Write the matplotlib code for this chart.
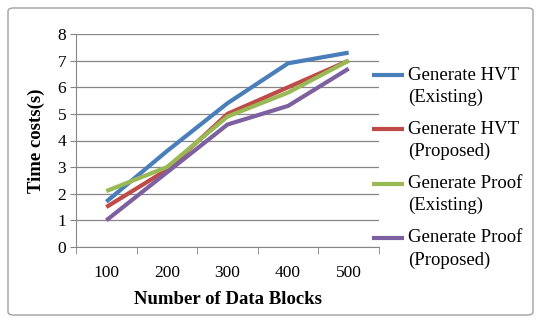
import matplotlib
matplotlib.use("Agg")
import matplotlib.pyplot as plt
from matplotlib.patches import FancyBboxPatch
from matplotlib.lines import Line2D

plt.rcParams['font.family'] = ['Liberation Serif', 'DejaVu Serif']

blocks = ['100', '200', '300', '400', '500']
hvt_existing = [1.7, 3.6, 5.4, 6.9, 7.3]
hvt_proposed = [1.5, 2.9, 5.0, 6.0, 7.0]
proof_existing = [2.1, 3.0, 4.9, 5.8, 7.0]
proof_proposed = [1.0, 2.8, 4.6, 5.3, 6.7]

series = [
    (("Generate HVT", "(Existing)"), hvt_existing, '#4A7EBB'),
    (("Generate HVT", "(Proposed)"), hvt_proposed, '#BE4B48'),
    (("Generate Proof", "(Existing)"), proof_existing, '#98B954'),
    (("Generate Proof", "(Proposed)"), proof_proposed, '#7D60A0'),
]

W, H = 537, 322
fig = plt.figure(figsize=(W / 100, H / 100), dpi=100)
ax = fig.add_axes([76 / W, 1 - 247 / H, 303 / W, 213 / H])

# outer chart border
fig.patches.append(FancyBboxPatch((8 / W, 7 / H), 525 / W, 307 / H,
                                  boxstyle="round,pad=0,rounding_size=0.01",
                                  transform=fig.transFigure, fill=False,
                                  edgecolor='#A0A0A0', linewidth=1.0))

x = list(range(len(blocks)))
for label, vals, color in series:
    ax.plot(x, vals, color=color, linewidth=3, solid_capstyle='butt')

ax.set_xlim(-0.5, len(blocks) - 0.5)
ax.set_ylim(0, 8)
ax.set_yticks(range(0, 9))
ax.set_xticks(x)
ax.set_xticklabels(blocks)
ax.set_xticks([i - 0.5 for i in range(len(blocks) + 1)], minor=True)
ax.tick_params(axis='x', which='major', length=0, labelsize=12.5, pad=13)
ax.tick_params(axis='x', which='minor', length=5, color='#868686')
ax.tick_params(axis='y', length=4, color='#868686', labelsize=12.5, pad=3)
ax.grid(axis='y', color='#868686', linewidth=0.9)
ax.set_axisbelow(True)
for s in ['top', 'right']:
    ax.spines[s].set_visible(False)
for s in ['left', 'bottom']:
    ax.spines[s].set_color('#868686')

ax.set_xlabel("Number of Data Blocks", fontsize=13.5, fontweight='bold', labelpad=7)
ax.set_ylabel("Time costs(s)", fontsize=13.5, fontweight='bold', labelpad=9)

# legend drawn like the Excel one: handle aligned with the first text line
for i, (label, vals, color) in enumerate(series):
    y0 = 1 - (75 + 54.3 * i) / H
    fig.add_artist(Line2D([372 / W, 404 / W], [y0, y0], color=color,
                          linewidth=3, transform=fig.transFigure,
                          solid_capstyle='butt'))
    fig.text(408 / W, y0, label[0], fontsize=13.5, va='center', ha='left')
    fig.text(408 / W, y0 - 22 / H, label[1], fontsize=13.5, va='center', ha='left')

fig.savefig("out.png", dpi=100)
